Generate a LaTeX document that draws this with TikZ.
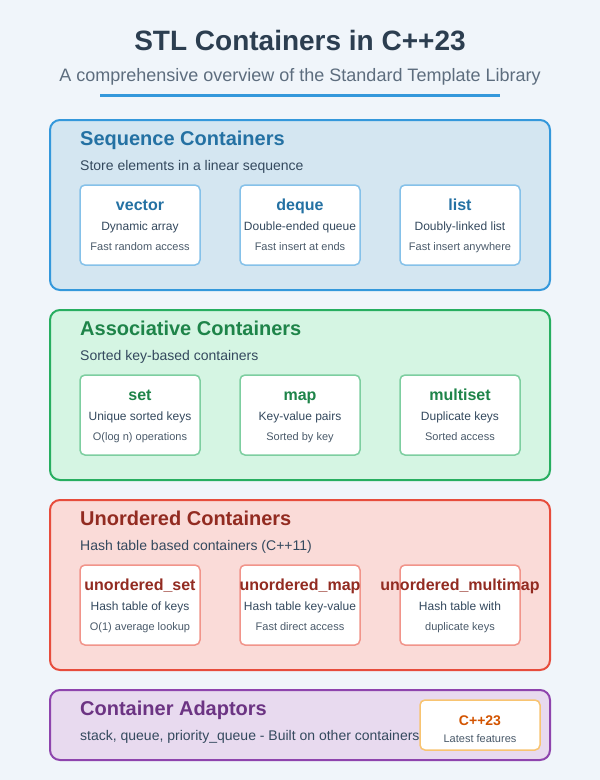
\documentclass[tikz,border=0pt]{standalone}
\usepackage{fontspec}
\setmainfont{Liberation Sans}
\definecolor{bg}{HTML}{F0F5FA}
\definecolor{titlec}{HTML}{2C3E50}
\definecolor{subc}{HTML}{5D6D7E}
\definecolor{textc}{HTML}{34495E}
\definecolor{smallc}{HTML}{4A5A6A}
\definecolor{seqfill}{HTML}{D4E6F1}
\definecolor{seqdraw}{HTML}{3498DB}
\definecolor{seqtext}{HTML}{2471A3}
\definecolor{seqinner}{HTML}{85C1E9}
\definecolor{assfill}{HTML}{D5F5E3}
\definecolor{assdraw}{HTML}{27AE60}
\definecolor{asstext}{HTML}{1E8449}
\definecolor{assinner}{HTML}{7DCEA0}
\definecolor{unofill}{HTML}{FADBD8}
\definecolor{unodraw}{HTML}{E74C3C}
\definecolor{unotext}{HTML}{922B21}
\definecolor{unoinner}{HTML}{F1948A}
\definecolor{adafill}{HTML}{E8DAEF}
\definecolor{adadraw}{HTML}{8E44AD}
\definecolor{adatext}{HTML}{6C3483}
\definecolor{newdraw}{HTML}{F8C471}
\definecolor{newtext}{HTML}{D35400}
\tikzset{
  section/.style={line width=2pt, rounded corners=10pt},
  card/.style={fill=white, line width=1.5pt, rounded corners=5pt},
  sectitle/.style={anchor=base west, font=\bfseries\fontsize{20}{24}\selectfont, inner sep=0pt},
  secsub/.style={anchor=base west, font=\fontsize{14}{17}\selectfont, text=textc, inner sep=0pt},
  cardname/.style={anchor=base, font=\bfseries\fontsize{16}{19}\selectfont, inner sep=0pt},
  cardline/.style={anchor=base, font=\fontsize{12}{14}\selectfont, text=textc, inner sep=0pt},
  cardsmall/.style={anchor=base, font=\fontsize{11}{13}\selectfont, text=smallc, inner sep=0pt},
}
\begin{document}
\begin{tikzpicture}[x=1pt,y=-1pt]
\useasboundingbox (0,0) rectangle (600,780);
\fill[bg] (0,0) rectangle (600,780);
% header
\node[anchor=base, font=\bfseries\fontsize{28}{34}\selectfont, text=titlec, inner sep=0pt] (title) at (300,50) {STL Containers in C++23};
\node[anchor=base, font=\fontsize{18}{22}\selectfont, text=subc, inner sep=0pt] (subtitle) at (300,81) {A comprehensive overview of the Standard Template Library};
\coordinate (ul) at (100,95);
\coordinate (ur) at (500,95);
\draw[seqdraw, line width=3pt] (ul) -- (ur);

% Sequence
\draw[section, fill=seqfill, draw=seqdraw] (50,120) rectangle (550,290);
\node[sectitle, text=seqtext] (seqt) at (80,145) {Sequence Containers};
\node[secsub] (seqs) at (80,170) {Store elements in a linear sequence};
\foreach \x/\n/\a/\b [count=\i] in {140/vector/Dynamic array/Fast random access,300/deque/Double-ended queue/Fast insert at ends,460/list/Doubly-linked list/Fast insert anywhere}{
  \draw[card, draw=seqinner] (\x-60,185) rectangle (\x+60,265);
  \node[cardname, text=seqtext] (seqn\i) at (\x,210) {\n};
  \node[cardline] (seqa\i) at (\x,230) {\a};
  \node[cardsmall] (seqb\i) at (\x,250) {\b};
}

% Associative
\draw[section, fill=assfill, draw=assdraw] (50,310) rectangle (550,480);
\node[sectitle, text=asstext] (asst) at (80,335) {Associative Containers};
\node[secsub] (asss) at (80,360) {Sorted key-based containers};
\foreach \x/\n/\a/\b [count=\i] in {140/set/Unique sorted keys/O(log n) operations,300/map/Key-value pairs/Sorted by key,460/multiset/Duplicate keys/Sorted access}{
  \draw[card, draw=assinner] (\x-60,375) rectangle (\x+60,455);
  \node[cardname, text=asstext] (assn\i) at (\x,400) {\n};
  \node[cardline] (assa\i) at (\x,420) {\a};
  \node[cardsmall] (assb\i) at (\x,440) {\b};
}

% Unordered
\draw[section, fill=unofill, draw=unodraw] (50,500) rectangle (550,670);
\node[sectitle, text=unotext] (unot) at (80,525) {Unordered Containers};
\node[secsub] (unos) at (80,550) {Hash table based containers (C++11)};
\foreach \x/\n/\a/\b [count=\i] in {140/unordered\_set/Hash table of keys/O(1) average lookup,300/unordered\_map/Hash table key-value/Fast direct access,460/unordered\_multimap/Hash table with/duplicate keys}{
  \draw[card, draw=unoinner] (\x-60,565) rectangle (\x+60,645);
  \node[cardname, text=unotext] (unon\i) at (\x,590) {\n};
  \node[cardline] (unoa\i) at (\x,610) {\a};
  \node[cardsmall] (unob\i) at (\x,630) {\b};
}

% Adaptors
\draw[section, fill=adafill, draw=adadraw] (50,690) rectangle (550,760);
\node[sectitle, text=adatext] (adat) at (80,715) {Container Adaptors};
\node[secsub] (adas) at (80,740) {stack, queue, priority\_queue - Built on other containers};
\draw[card, draw=newdraw] (420,700) rectangle (540,750);
\node[anchor=base, font=\bfseries\fontsize{14}{17}\selectfont, text=newtext, inner sep=0pt] (newt) at (480,725) {C++23};
\node[cardsmall] (news) at (480,742) {Latest features};
\end{tikzpicture}
\end{document}
